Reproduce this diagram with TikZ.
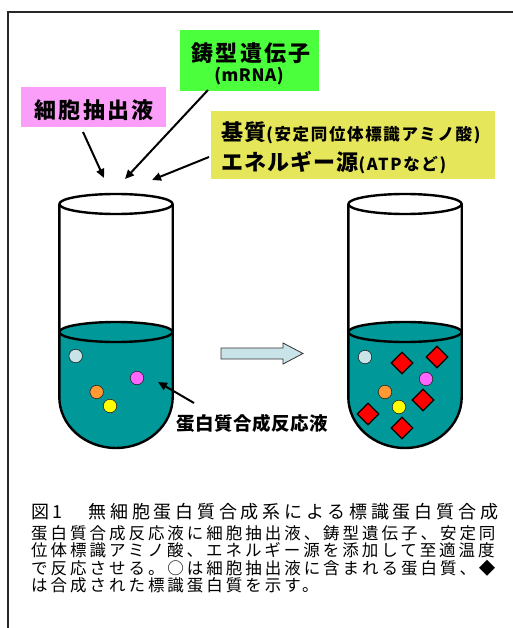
\documentclass[tikz,border=0pt]{standalone}
\usepackage{fontspec}
\newfontfamily\labfont[LetterSpace=11]{Noto Sans CJK JP}
\newfontfamily\tightfont[LetterSpace=5]{Noto Sans CJK JP}
\newfontfamily\subfont[LetterSpace=3]{Noto Sans CJK JP}
\newfontfamily\notefont[LetterSpace=10]{Noto Sans CJK JP}
\newfontfamily\titlefont[LetterSpace=21]{Noto Sans CJK JP}
\newfontfamily\capfont[LetterSpace=18]{Noto Sans CJK JP}
\usetikzlibrary{arrows.meta,shapes.geometric}

\definecolor{liquid}{RGB}{0,152,152}
\definecolor{paleblue}{RGB}{200,228,232}
\definecolor{dotmagenta}{RGB}{255,102,255}
\definecolor{dotorange}{RGB}{255,153,51}
\definecolor{dotyellow}{RGB}{255,255,0}
\definecolor{boxgreen}{RGB}{76,255,60}
\definecolor{boxpink}{RGB}{250,158,250}
\definecolor{boxyellow}{RGB}{230,230,90}
\definecolor{framegray}{RGB}{40,40,40}

\newcommand{\notetext}[1]{{\notefont\bfseries\fontsize{16.5}{16.5}\selectfont #1}}

\begin{document}
\begin{tikzpicture}[x=1pt,y=-1pt,
  box/.style={rectangle, inner sep=0pt},
  txt/.style={inner sep=0pt, anchor=base},
  txtw/.style={inner sep=0pt, anchor=base west},
  bigjp/.style={font=\labfont\bfseries\fontsize{22}{22}\selectfont},
  yeljp/.style={font=\tightfont\bfseries\fontsize{22}{22}\selectfont},
  capline/.style={txtw, font=\capfont\fontsize{16.5}{16.5}\selectfont},
  feed/.style={line width=2pt, -{Triangle[length=9pt,width=8pt]}},
  glass/.style={line width=2.4pt, line join=round},
  protein/.style={circle, draw=black!85, line width=0.6pt, minimum size=13.5pt, inner sep=0pt},
  labeled/.style={diamond, draw=black, fill=red, line width=1.2pt, minimum size=22pt, inner sep=0pt},
  tube/.pic={
    % liquid: bottom half-ellipse, straight walls, upper half of the surface
    \fill[liquid] (-56.7,332) -- (-56.7,397)
      arc[start angle=180,end angle=0,x radius=56.7,y radius=51]
      -- (56.7,332)
      arc[start angle=0,end angle=-180,x radius=56.7,y radius=10] -- cycle;
    % glass outline
    \draw[glass] (-56.7,204) -- (-56.7,397)
      arc[start angle=180,end angle=0,x radius=56.7,y radius=51] -- (56.7,204);
    \draw[glass] (0,204) ellipse[x radius=56.7,y radius=10];
    \draw[glass] (0,332) ellipse[x radius=56.7,y radius=10];
  }]

\useasboundingbox (0,0) rectangle (512,628);
\fill[white] (0,0) rectangle (512,628);
\draw[framegray, line width=1.5pt] (520,12) -- (8,12) -- (8,640);

% ---- ingredient boxes ----
\node[box, fill=boxpink, minimum width=145pt, minimum height=40pt] (pinkbox) at (93.5,107) {};
\node[txt, bigjp] (extract) at (94,118.5) {細胞抽出液};

\node[box, fill=boxgreen, minimum width=139pt, minimum height=61pt] (greenbox) at (249.5,60.5) {};
\node[txt, bigjp] (template) at (251,61.5) {鋳型遺伝子};
\node[txt, font=\subfont\bfseries\fontsize{17}{17}\selectfont] (mrna) at (249,81.5) {(mRNA)};

\node[box, fill=boxyellow, minimum width=284pt, minimum height=68pt] (yellowbox) at (353,145) {};
\node[txtw, yeljp] (substrate) at (221,141) {基質\notetext{(安定同位体標識アミノ酸)}};
\node[txtw, yeljp] (energy) at (221,170.5) {エネルギー源\notetext{(ATPなど)}};

% ---- tubes ----
\pic at (116,0) {tube};
\pic at (405,0) {tube};

% proteins already present in the extract
\node[protein, fill=paleblue]   (l1) at (75.7,356) {};
\node[protein, fill=dotmagenta] (l2) at (137,378) {};
\node[protein, fill=dotorange]  (l3) at (96.7,392) {};
\node[protein, fill=dotyellow]  (l4) at (110,406) {};

\node[protein, fill=paleblue]   (r1) at (365,357) {};
\node[protein, fill=dotmagenta] (r2) at (426,379) {};
\node[protein, fill=dotorange]  (r3) at (385,392) {};
\node[protein, fill=dotyellow]  (r4) at (399,407) {};

% newly synthesised labelled proteins
\node[labeled] (d1) at (402,363) {};
\node[labeled] (d2) at (437,357) {};
\node[labeled] (d3) at (423,400) {};
\node[labeled] (d4) at (368,414) {};
\node[labeled] (d5) at (402,428) {};

% block arrow between the tubes
\draw[line width=0.8pt, draw=black!80, fill=paleblue, line join=miter]
  (221,348) -- (283,348) -- (283,343) -- (303,353.5) -- (283,364) -- (283,359) -- (221,359) -- cycle;

% ---- feed arrows ----
\coordinate (f1s) at (83,132);  \coordinate (f1e) at (104,178);
\coordinate (f2s) at (208,90);  \coordinate (f2e) at (125,179);
\coordinate (f3s) at (209,157); \coordinate (f3e) at (152,180);
\draw[feed] (f1s) -- (f1e);
\draw[feed] (f2s) -- (f2e);
\draw[feed] (f3s) -- (f3e);

% reaction mixture label
\node[txt, font=\subfont\bfseries\fontsize{18.5}{18.5}\selectfont] (mixture) at (252,430.5) {蛋白質合成反応液};
\coordinate (m1s) at (194,403); \coordinate (m1e) at (158,382);
\draw[feed] (m1s) -- (m1e);

% ---- caption ----
\node[txtw, font=\titlefont\fontsize{18}{18}\selectfont] (cap1) at (31,518) {図1　無細胞蛋白質合成系による標識蛋白質合成};
\node[capline] (cap2) at (31,539)   {蛋白質合成反応液に細胞抽出液、鋳型遺伝子、安定同};
\node[capline] (cap3) at (31,556.3) {位体標識アミノ酸、エネルギー源を添加して至適温度};
\node[capline] (cap4) at (31,574)   {で反応させる。○は細胞抽出液に含まれる蛋白質、◆};
\node[capline] (cap5) at (31,591.5) {は合成された標識蛋白質を示す。};
\end{tikzpicture}
\end{document}
